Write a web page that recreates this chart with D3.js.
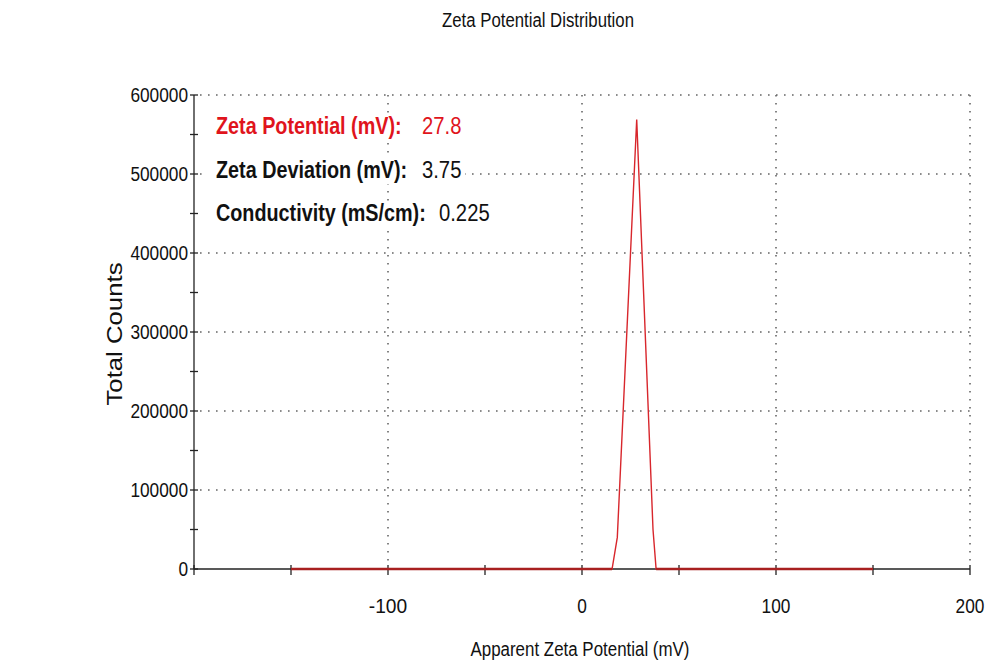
<!DOCTYPE html>
<html>
<head>
<meta charset="utf-8">
<script src="https://cdn.jsdelivr.net/npm/d3@7"></script>
<style>
  body { margin: 0; background: #fff; }
  text { font-family: "Liberation Sans Narrow", "Arial Narrow", "Liberation Sans", Arial, sans-serif; }
</style>
</head>
<body>
<div id="chart"></div>
<script>
// distribution curve (mV, counts)
var zetaMv = [-150, 15.5, 18.2, 28.2, 36.6, 38.2, 150];
var counts = [0, 0, 40000, 569000, 50000, 0, 0];

var xTicks = [-200, -150, -100, -50, 0, 50, 100, 150, 200];
var xLabels = [-100, 0, 100, 200];
var yLabels = [0, 100000, 200000, 300000, 400000, 500000, 600000];
var yMinor = [50000, 150000, 250000, 350000, 450000, 550000];

var infoLabels = ['Zeta Potential (mV):', 'Zeta Deviation (mV):', 'Conductivity (mS/cm):'];
var infoValues = ['27.8', '3.75', '0.225'];

var width = 989, height = 666;

var svg = d3.select('#chart').append('svg')
    .attr('width', width)
    .attr('height', height);

var x = d3.scaleLinear().domain([-200, 200]).range([194, 970]);
var y = d3.scaleLinear().domain([0, 600000]).range([569, 95]);

// squeeze a label to the width it has in the picture
function narrow(sel, perChar) {
  sel.attr('textLength', function() { return this.textContent.length * perChar; })
     .attr('lengthAdjust', 'spacingAndGlyphs');
}

// dotted grid
var grid = svg.append('g')
    .attr('stroke', '#666')
    .attr('stroke-width', 1.6)
    .attr('stroke-dasharray', '1.6,6.4');

grid.selectAll('.hg')
    .data(yLabels.slice(1))
    .enter().append('line')
    .attr('x1', x(-200) + 6).attr('x2', x(200))
    .attr('y1', d => y(d)).attr('y2', d => y(d));

grid.selectAll('.vg')
    .data(xLabels)
    .enter().append('line')
    .attr('x1', d => x(d)).attr('x2', d => x(d))
    .attr('y1', y(600000)).attr('y2', y(0) - 6);

// axes
var yAxis = svg.append('g').attr('stroke', '#222').attr('stroke-width', 1.3);
yAxis.append('line')
    .attr('x1', x(-200)).attr('x2', x(-200))
    .attr('y1', y(600000)).attr('y2', y(0));
yAxis.selectAll('.yt')
    .data(yLabels.concat(yMinor))
    .enter().append('line')
    .attr('x1', x(-200) - 4).attr('x2', x(-200) + 4)
    .attr('y1', d => y(d)).attr('y2', d => y(d));

var xAxis = svg.append('g').attr('stroke', '#222').attr('stroke-width', 1.3);
xAxis.append('line')
    .attr('x1', x(-200)).attr('x2', x(200))
    .attr('y1', y(0)).attr('y2', y(0));
xAxis.selectAll('.xt')
    .data(xTicks)
    .enter().append('line')
    .attr('x1', d => x(d)).attr('x2', d => x(d))
    .attr('y1', y(0) - 4).attr('y2', y(0) + 6);

// tick labels
svg.append('g').selectAll('text')
    .data(yLabels)
    .enter().append('text')
    .attr('x', x(-200) - 6)
    .attr('y', d => y(d) + 7)
    .attr('text-anchor', 'end')
    .attr('font-size', 20)
    .attr('fill', '#111')
    .text(d => d)
    .call(narrow, 9.6);

svg.append('g').selectAll('text')
    .data(xLabels)
    .enter().append('text')
    .attr('x', d => x(d))
    .attr('y', 613)
    .attr('text-anchor', 'middle')
    .attr('font-size', 20)
    .attr('fill', '#111')
    .text(d => d)
    .call(narrow, 9.6);

// curve
var line = d3.line()
    .x((d, i) => x(zetaMv[i]))
    .y(d => y(d));

svg.append('path')
    .datum(counts)
    .attr('d', line)
    .attr('fill', 'none')
    .attr('stroke', '#d8262c')
    .attr('stroke-width', 1.4);

svg.append('line')
    .attr('x1', x(zetaMv[0])).attr('x2', x(zetaMv[1]))
    .attr('y1', y(0)).attr('y2', y(0))
    .attr('stroke', '#a82020').attr('stroke-width', 2.6);
svg.append('line')
    .attr('x1', x(zetaMv[5])).attr('x2', x(zetaMv[6]))
    .attr('y1', y(0)).attr('y2', y(0))
    .attr('stroke', '#a82020').attr('stroke-width', 2.6);

// titles
svg.append('text')
    .attr('x', 538).attr('y', 27)
    .attr('text-anchor', 'middle')
    .attr('font-size', 20)
    .attr('fill', '#111')
    .attr('textLength', 192)
    .attr('lengthAdjust', 'spacingAndGlyphs')
    .text('Zeta Potential Distribution');

svg.append('text')
    .attr('x', 580).attr('y', 656)
    .attr('text-anchor', 'middle')
    .attr('font-size', 20)
    .attr('fill', '#111')
    .attr('textLength', 219)
    .attr('lengthAdjust', 'spacingAndGlyphs')
    .text('Apparent Zeta Potential (mV)');

svg.append('text')
    .attr('transform', 'translate(122,334)rotate(-90)')
    .attr('text-anchor', 'middle')
    .attr('font-size', 22)
    .attr('fill', '#111')
    .attr('textLength', 143)
    .attr('lengthAdjust', 'spacingAndGlyphs')
    .style('font-family', '"Liberation Sans", Arial, sans-serif')
    .text('Total Counts');

// info block, white box behind hides the grid
var info = svg.append('g');
var infoY = [134, 178, 221];
var valX = [422, 422, 439];
var valW = [40, 39, 50];

info.selectAll('rect')
    .data(infoLabels)
    .enter().append('rect')
    .attr('x', 206)
    .attr('y', (d, i) => infoY[i] - 19)
    .attr('width', (d, i) => valX[i] + valW[i] + 4 - 206)
    .attr('height', 25)
    .attr('fill', '#fff');

// condensed look by squeezing horizontally
info.selectAll('.lab')
    .data(infoLabels)
    .enter().append('text')
    .attr('transform', (d, i) => `translate(216,${infoY[i]})scale(0.86,1)`)
    .attr('font-size', 23)
    .attr('font-weight', 'bold')
    .attr('fill', (d, i) => i === 0 ? '#e0141c' : '#111')
    .text(d => d);

info.selectAll('.val')
    .data(infoValues)
    .enter().append('text')
    .attr('transform', (d, i) => `translate(${valX[i]},${infoY[i]})scale(0.88,1)`)
    .attr('font-size', 23)
    .attr('fill', (d, i) => i === 0 ? '#e0141c' : '#111')
    .text(d => d);
</script>
</body>
</html>
